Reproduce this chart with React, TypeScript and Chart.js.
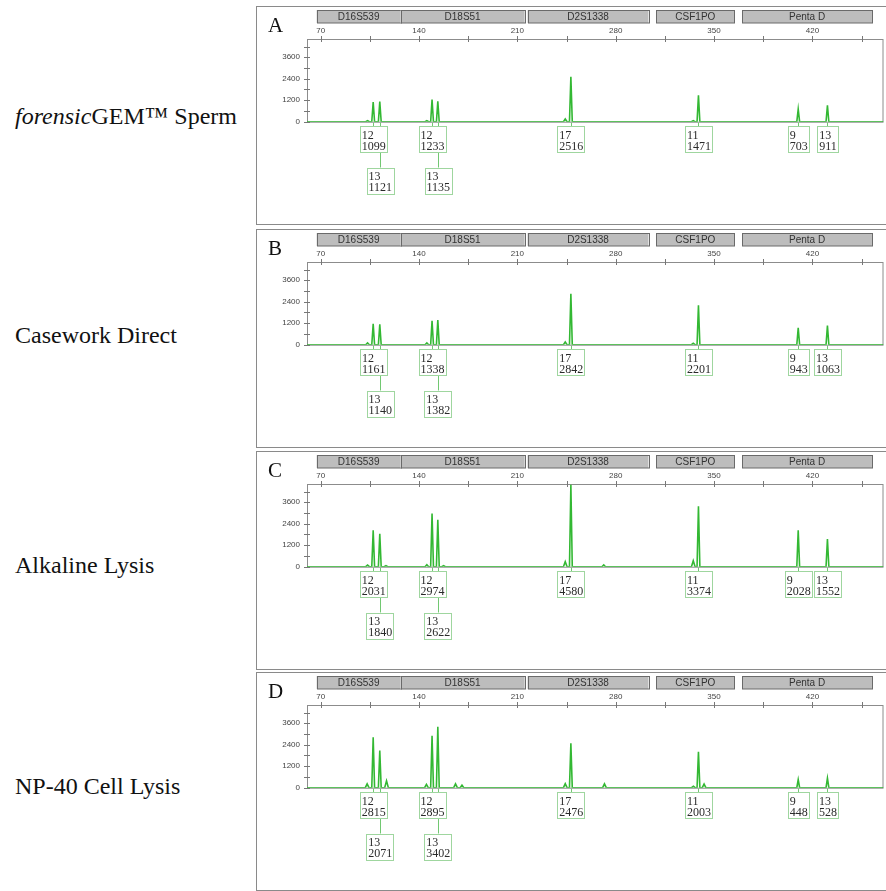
import React, { useEffect, useRef } from 'react';
import { Chart, registerables } from 'chart.js';
Chart.register(...registerables);

// ---------- data ----------
const LOCI = ['D16S539', 'D18S51', 'D2S1338', 'CSF1PO', 'Penta D'];
const LOCUS_START = [67.2, 126.9, 217.3, 309.0, 370.0];
const LOCUS_END = [126.9, 215.2, 303.3, 364.4, 462.4];

const X_TICKS = [70, 105, 140, 175, 210, 245, 280, 315, 350, 385, 420, 455];
const X_LABELED = [70, 140, 210, 280, 350, 420];
const Y_TICKS = [0, 600, 1200, 1800, 2400, 3000, 3600, 4200];
const Y_LABELED = [0, 1200, 2400, 3600];

const ALLELE_POS = [107.4, 112.1, 149.3, 153.4, 248.1, 338.9, 409.9, 430.7];
const ALLELES = ['12', '13', '12', '13', '17', '11', '9', '13'];

const HEIGHTS_A = [1099, 1121, 1233, 1135, 2516, 1471, 703, 911];
const HEIGHTS_B = [1161, 1140, 1338, 1382, 2842, 2201, 943, 1063];
const HEIGHTS_C = [2031, 1840, 2974, 2622, 4580, 3374, 2028, 1552];
const HEIGHTS_D = [2815, 2071, 2895, 3402, 2476, 2003, 448, 528];

const MINOR_POS_A = [103.4, 145.6, 244.1, 335.2];
const MINOR_H_A = [60, 60, 150, 60];
const MINOR_POS_B = [103.4, 145.6, 244.1, 335.2];
const MINOR_H_B = [100, 100, 150, 80];
const MINOR_POS_C = [103.4, 116.5, 145.6, 157.5, 244.1, 271.5, 335.2];
const MINOR_H_C = [90, 60, 110, 60, 280, 100, 330];
const MINOR_POS_D = [103.1, 116.9, 145.3, 166.0, 170.6, 244.1, 272.0, 335.3, 342.9];
const MINOR_H_D = [215, 380, 180, 215, 140, 220, 215, 80, 200];

const PANEL_LETTERS = ['A', 'B', 'C', 'D'];
const SAMPLE_ITALIC = ['forensic', '', '', ''];
const SAMPLE_REST = ['GEM™ Sperm', 'Casework Direct', 'Alkaline Lysis', 'NP-40 Cell Lysis'];

const HEIGHTS = [HEIGHTS_A, HEIGHTS_B, HEIGHTS_C, HEIGHTS_D];
const MINOR_POS = [MINOR_POS_A, MINOR_POS_B, MINOR_POS_C, MINOR_POS_D];
const MINOR_H = [MINOR_H_A, MINOR_H_B, MINOR_H_C, MINOR_H_D];

// ---------- layout / style ----------
const X_MIN = 60.3;
const X_MAX = 470.6;
const Y_MAX = 4620;
const PANEL_TOPS = [6, 229, 451, 672];
const LABEL_CENTERS = [117, 336, 566, 787];
const CANVAS_W = 629;
const CANVAS_H = 217;
const MAIN_HW = 1.0;
const MINOR_HW = 1.3;
const GREEN = '#33b833';
const BOX_GREEN = '#9fd69f';
const SERIF = '"Liberation Serif", "Times New Roman", serif';
const SANS = '"Liberation Sans", Arial, sans-serif';

function buildTrace(idx: number) {
  const peaks: { p: number; h: number; hw: number }[] = [];
  ALLELE_POS.forEach((p, i) => peaks.push({ p, h: HEIGHTS[idx][i], hw: MAIN_HW }));
  MINOR_POS[idx].forEach((p, i) => peaks.push({ p, h: MINOR_H[idx][i], hw: MINOR_HW }));
  peaks.sort((a, b) => a.p - b.p);
  const pts: { x: number; y: number }[] = [{ x: X_MIN, y: 0 }];
  peaks.forEach((pk) => {
    pts.push({ x: pk.p - pk.hw, y: 0 });
    pts.push({ x: pk.p, y: pk.h });
    pts.push({ x: pk.p + pk.hw, y: 0 });
  });
  pts.push({ x: X_MAX, y: 0 });
  return pts;
}

const decorPlugin = {
  id: 'decor',
  beforeDatasetsDraw(chart: any) {
    const { ctx, chartArea: ca, scales } = chart;
    const xs = scales.x;
    const ys = scales.y;
    ctx.save();
    // frame
    ctx.strokeStyle = '#8c8c8c';
    ctx.lineWidth = 1;
    ctx.strokeRect(ca.left + 0.5, ca.top + 0.5, ca.right - ca.left - 1, ca.bottom - ca.top);
    // crossing ticks
    ctx.strokeStyle = '#777';
    X_TICKS.forEach((v) => {
      const px = Math.round(xs.getPixelForValue(v)) + 0.5;
      ctx.beginPath();
      ctx.moveTo(px, ca.top - 3);
      ctx.lineTo(px, ca.top + 3);
      ctx.stroke();
    });
    Y_TICKS.forEach((v) => {
      const py = Math.round(ys.getPixelForValue(v)) + 0.5;
      ctx.beginPath();
      ctx.moveTo(ca.left - 3, py);
      ctx.lineTo(ca.left + 3, py);
      ctx.stroke();
    });
    // locus marker bars
    ctx.font = '10px ' + SANS;
    ctx.textAlign = 'center';
    ctx.textBaseline = 'middle';
    LOCI.forEach((name, i) => {
      const x0 = xs.getPixelForValue(LOCUS_START[i]);
      const x1 = xs.getPixelForValue(LOCUS_END[i]);
      ctx.fillStyle = '#bdbdbd';
      ctx.fillRect(x0, 3, x1 - x0, 13);
      ctx.strokeStyle = '#6a6a6a';
      ctx.strokeRect(Math.round(x0) + 0.5, 3.5, Math.round(x1 - x0), 12.5);
      ctx.fillStyle = '#333';
      ctx.fillText(name, (x0 + x1) / 2, 10);
    });
    ctx.restore();
  },
  afterDraw(chart: any) {
    const { ctx, chartArea: ca, scales } = chart;
    const xs = scales.x;
    const idx = chart.options.plugins.decor.idx;
    const base = ca.bottom;
    ctx.save();
    ctx.font = '12px ' + SERIF;
    const rowRight = [-Infinity, -Infinity];
    const boxes = ALLELE_POS.map((p, i) => {
      const px = xs.getPixelForValue(p);
      const t2 = String(HEIGHTS[idx][i]);
      const w = Math.max(ctx.measureText(ALLELES[i]).width, ctx.measureText(t2).width) + 3;
      const left = px - w / 2;
      const row = left < rowRight[0] + 1 ? 1 : 0;
      rowRight[row] = left + w;
      const top = base + (row === 0 ? 4.3 : 46);
      return { px, left, w, top, t1: ALLELES[i], t2 };
    });
    ctx.strokeStyle = '#72c872';
    ctx.lineWidth = 1;
    boxes.forEach((b) => {
      const x = Math.round(b.px) + 0.5;
      ctx.beginPath();
      ctx.moveTo(x, base + 1);
      ctx.lineTo(x, b.top);
      ctx.stroke();
    });
    boxes.forEach((b) => {
      ctx.fillStyle = '#fff';
      ctx.fillRect(b.left, b.top, b.w, 26.7);
      ctx.strokeStyle = BOX_GREEN;
      ctx.strokeRect(Math.round(b.left) + 0.5, Math.round(b.top) + 0.5, Math.round(b.w), 26);
      ctx.fillStyle = '#2a2a2a';
      ctx.textAlign = 'left';
      ctx.textBaseline = 'middle';
      ctx.fillText(b.t1, b.left + 2, b.top + 9.4);
      ctx.fillText(b.t2, b.left + 2, b.top + 20.4);
    });
    ctx.restore();
  },
};

function Panel({ idx }: { idx: number }) {
  const ref = useRef<HTMLCanvasElement>(null);
  useEffect(() => {
    if (!ref.current) return;
    const chart = new Chart(ref.current, {
      type: 'line',
      data: {
        datasets: [
          {
            data: buildTrace(idx),
            borderColor: GREEN,
            borderWidth: 1.6,
            pointRadius: 0,
            tension: 0,
            fill: false,
          },
        ],
      },
      options: {
        animation: false,
        responsive: false,
        layout: { padding: { top: 0, left: 0, right: 2.5, bottom: 102.3 } },
        plugins: {
          legend: { display: false },
          tooltip: { enabled: false },
          decor: { idx },
        } as any,
        scales: {
          x: {
            type: 'linear',
            position: 'top',
            min: X_MIN,
            max: X_MAX,
            grid: { display: false, drawTicks: false, tickLength: 0 },
            border: { display: false },
            afterBuildTicks: (s: any) => {
              s.ticks = X_TICKS.map((v) => ({ value: v }));
            },
            afterFit: (s: any) => {
              s.height = 32;
            },
            ticks: {
              autoSkip: false,
              maxRotation: 0,
              padding: 3,
              color: '#444',
              font: { family: SANS, size: 8 },
              callback: (v: any) => (X_LABELED.includes(Number(v)) ? String(v) : ''),
            },
          },
          y: {
            type: 'linear',
            min: 0,
            max: Y_MAX,
            grid: { display: false, drawTicks: false, tickLength: 0 },
            border: { display: false },
            afterBuildTicks: (s: any) => {
              s.ticks = Y_TICKS.map((v) => ({ value: v }));
            },
            afterFit: (s: any) => {
              s.width = 50;
            },
            ticks: {
              autoSkip: false,
              padding: 7,
              color: '#444',
              font: { family: SANS, size: 8 },
              callback: (v: any) => (Y_LABELED.includes(Number(v)) ? String(v) : ''),
            },
          },
        },
      },
      plugins: [decorPlugin],
    } as any);
    return () => chart.destroy();
  }, [idx]);
  const top = PANEL_TOPS[idx];
  return (
    <>
      <div
        style={{
          position: 'absolute',
          left: 256,
          top,
          width: 650,
          height: 219,
          boxSizing: 'border-box',
          border: '1px solid #8a8a8a',
        }}
      />
      <canvas
        ref={ref}
        width={CANVAS_W}
        height={CANVAS_H}
        style={{ position: 'absolute', left: 257, top: top + 1, width: CANVAS_W, height: CANVAS_H }}
      />
      <div
        style={{
          position: 'absolute',
          left: 268,
          top: top + 9.4,
          fontFamily: SERIF,
          fontSize: 21,
          lineHeight: '21px',
          color: '#111',
        }}
      >
        {PANEL_LETTERS[idx]}
      </div>
      <div
        style={{
          position: 'absolute',
          left: 15,
          top: LABEL_CENTERS[idx] - 13.2,
          fontFamily: SERIF,
          fontSize: 24,
          lineHeight: '24px',
          color: '#111',
          whiteSpace: 'nowrap',
        }}
      >
        {SAMPLE_ITALIC[idx] ? <i>{SAMPLE_ITALIC[idx]}</i> : null}
        {SAMPLE_REST[idx]}
      </div>
    </>
  );
}

export default function App() {
  return (
    <div
      style={{
        position: 'absolute',
        left: 0,
        top: 0,
        width: 886,
        height: 891,
        background: '#fff',
        overflow: 'hidden',
      }}
    >
      {[0, 1, 2, 3].map((i) => (
        <Panel key={i} idx={i} />
      ))}
    </div>
  );
}
